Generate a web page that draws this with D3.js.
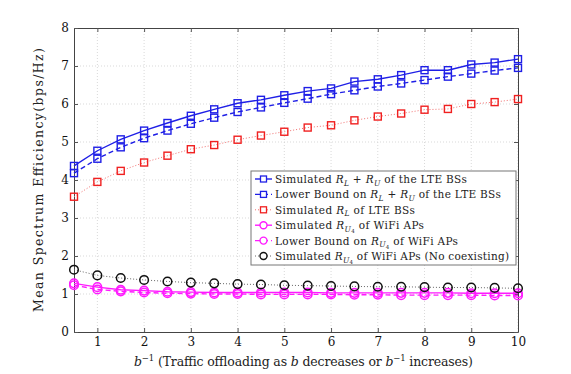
<!DOCTYPE html>
<html>
<head>
<meta charset="utf-8">
<script src="https://cdn.jsdelivr.net/npm/d3@7"></script>
<style>
  body { margin: 0; background: #fff; }
</style>
</head>
<body>
<svg id="drawing_region"></svg>
<script>
// b^-1 values
const xs = [0.5, 1, 1.5, 2, 2.5, 3, 3.5, 4, 4.5, 5, 5.5, 6, 6.5, 7, 7.5, 8, 8.5, 9, 9.5, 10];

const simLU   = [4.37, 4.77, 5.07, 5.30, 5.50, 5.69, 5.86, 6.02, 6.11, 6.23, 6.34, 6.41, 6.59, 6.65, 6.76, 6.89, 6.89, 7.04, 7.09, 7.18];
const lowLU   = [4.18, 4.56, 4.86, 5.10, 5.30, 5.48, 5.64, 5.79, 5.91, 6.03, 6.14, 6.26, 6.36, 6.46, 6.54, 6.63, 6.72, 6.80, 6.88, 6.95];
const simL    = [3.56, 3.95, 4.24, 4.46, 4.64, 4.81, 4.92, 5.06, 5.17, 5.27, 5.38, 5.44, 5.57, 5.67, 5.75, 5.85, 5.87, 6.00, 6.05, 6.13];
const simWifi = [1.28, 1.18, 1.11, 1.09, 1.06, 1.05, 1.04, 1.04, 1.04, 1.04, 1.04, 1.03, 1.03, 1.03, 1.03, 1.03, 1.03, 1.02, 1.02, 1.02];
const lowWifi = [1.23, 1.12, 1.07, 1.04, 1.02, 1.01, 1.00, 1.00, 0.99, 0.99, 0.99, 0.99, 0.98, 0.98, 0.97, 0.97, 0.97, 0.97, 0.96, 0.96];
const noCoex  = [1.64, 1.49, 1.42, 1.37, 1.33, 1.30, 1.28, 1.26, 1.25, 1.23, 1.22, 1.21, 1.20, 1.19, 1.19, 1.18, 1.17, 1.17, 1.16, 1.15];

const xTicks = [1, 2, 3, 4, 5, 6, 7, 8, 9, 10];
const yTicks = [0, 1, 2, 3, 4, 5, 6, 7, 8];

// legend pieces: [text, italic?, baseline shift]
const legendLabels = [
  [["Simulated ", 0], ["R", 1], ["L", 1, "sub"], [" + ", 0], ["R", 1], ["U", 1, "sub"], [" of the LTE BSs", 0]],
  [["Lower Bound on ", 0], ["R", 1], ["L", 1, "sub"], [" + ", 0], ["R", 1], ["U", 1, "sub"], [" of the LTE BSs", 0]],
  [["Simulated ", 0], ["R", 1], ["L", 1, "sub"], [" of LTE BSs", 0]],
  [["Simulated ", 0], ["R", 1], ["U", 1, "sub"], ["4", 0, "subsub"], [" of WiFi APs", 0]],
  [["Lower Bound on ", 0], ["R", 1], ["U", 1, "sub"], ["4", 0, "subsub"], [" of WiFi APs", 0]],
  [["Simulated ", 0], ["R", 1], ["U", 1, "sub"], ["4", 0, "subsub"], [" of WiFi APs (No coexisting)", 0]]
];
const legendWidths = [192, 226, 140, 149, 183, 234];

const series = [
  {values: simLU,   color: "#1f1fe6", dash: null,  lineColor: "#1f1fe6", width: 1.4, marker: "square"},
  {values: lowLU,   color: "#1f1fe6", dash: "5,3", lineColor: "#1f1fe6", width: 1.4, marker: "square"},
  {values: simL,    color: "#f02020", dash: "1,2", lineColor: "#f27070", width: 1.0, marker: "square"},
  {values: simWifi, color: "#ff1aff", dash: null,  lineColor: "#ff1aff", width: 1.4, marker: "circle"},
  {values: lowWifi, color: "#ff1aff", dash: "5,3", lineColor: "#ff1aff", width: 1.4, marker: "circle"},
  {values: noCoex,  color: "#111111", dash: "1,2", lineColor: "#666666", width: 1.0, marker: "circle"}
];

const width = 571, height = 374;
const margin = {top: 28, right: 53, bottom: 42, left: 74};
const iw = width - margin.left - margin.right;
const ih = height - margin.top - margin.bottom;

const svg = d3.select("#drawing_region").attr("width", width).attr("height", height);
const g = svg.append("g").attr("transform", `translate(${margin.left},${margin.top})`);

const x = d3.scaleLinear().domain([0.5, 10]).range([0, iw]);
const y = d3.scaleLinear().domain([0, 8]).range([ih, 0]);

const serif = "DejaVu Serif";

// grid
g.append("g").selectAll("line").data(xTicks).join("line")
  .attr("x1", d => x(d)).attr("x2", d => x(d)).attr("y1", 0).attr("y2", ih)
  .attr("stroke", "#cfcfcf").attr("stroke-width", 0.8).attr("stroke-dasharray", "1,2");
g.append("g").selectAll("line").data(yTicks.slice(1, -1)).join("line")
  .attr("y1", d => y(d)).attr("y2", d => y(d)).attr("x1", 0).attr("x2", iw)
  .attr("stroke", "#cfcfcf").attr("stroke-width", 0.8).attr("stroke-dasharray", "1,2");

// axes
const xAxis = g.append("g").attr("transform", `translate(0,${ih})`)
  .call(d3.axisBottom(x).tickValues(xTicks).tickSizeInner(-4).tickSizeOuter(0).tickPadding(5));
const xAxisTop = g.append("g")
  .call(d3.axisTop(x).tickValues(xTicks).tickSizeInner(-4).tickSizeOuter(0).tickFormat(""));
const yAxis = g.append("g")
  .call(d3.axisLeft(y).tickValues(yTicks).tickSizeInner(-4).tickSizeOuter(0).tickPadding(5));
const yAxisRight = g.append("g").attr("transform", `translate(${iw},0)`)
  .call(d3.axisRight(y).tickValues(yTicks).tickSizeInner(-4).tickSizeOuter(0).tickFormat(""));

[xAxis, xAxisTop, yAxis, yAxisRight].forEach(a => {
  a.select(".domain").attr("stroke", "#444").attr("stroke-width", 1);
  a.selectAll(".tick line").attr("stroke", "#555");
  a.selectAll("text").attr("font-size", 12).attr("fill", "#111")
    .style("font-family", serif);
});

// lines and markers
const line = d3.line().x((d, i) => x(xs[i])).y(d => y(d));

series.forEach(s => {
  g.append("path").datum(s.values)
    .attr("d", line)
    .attr("fill", "none")
    .attr("stroke", s.lineColor)
    .attr("stroke-width", s.width)
    .attr("stroke-dasharray", s.dash);
});

function drawMarker(sel, s, cx, cy) {
  if (s.marker === "square") {
    sel.append("rect").attr("x", cx - 3.5).attr("y", cy - 3.5).attr("width", 7).attr("height", 7)
      .attr("fill", "none").attr("stroke", s.color).attr("stroke-width", 1.4);
  } else {
    sel.append("circle").attr("cx", cx).attr("cy", cy).attr("r", 4.3)
      .attr("fill", "none").attr("stroke", s.color).attr("stroke-width", 1.5);
  }
}

series.forEach(s => {
  const mg = g.append("g");
  s.values.forEach((v, i) => drawMarker(mg, s, x(xs[i]), y(v)));
});

// legend
const lx = 251 - margin.left, ly = 171 - margin.top, lw = 265, rowH = 15.4;
const leg = g.append("g");
leg.append("rect").attr("x", lx).attr("y", ly).attr("width", lw).attr("height", 94)
  .attr("fill", "#fff").attr("stroke", "#777").attr("stroke-width", 1);

series.forEach((s, i) => {
  const cy = ly + 8 + i * rowH;
  leg.append("line").attr("x1", lx + 4).attr("x2", lx + 21).attr("y1", cy).attr("y2", cy)
    .attr("stroke", s.lineColor).attr("stroke-width", s.width).attr("stroke-dasharray", s.dash);
  if (s.marker === "square") {
    leg.append("rect").attr("x", lx + 12.5 - 3).attr("y", cy - 3).attr("width", 6).attr("height", 6)
      .attr("fill", "#fff").attr("stroke", s.color).attr("stroke-width", 1.3);
  } else {
    leg.append("circle").attr("cx", lx + 12.5).attr("cy", cy).attr("r", 3.5)
      .attr("fill", "#fff").attr("stroke", s.color).attr("stroke-width", 1.4);
  }
  const t = leg.append("text").attr("x", lx + 24).attr("y", cy + 4)
    .attr("font-size", 10.5).attr("fill", "#222")
    .attr("textLength", legendWidths[i]).attr("lengthAdjust", "spacing")
    .style("font-family", serif);
  legendLabels[i].forEach((p, k) => {
    const ts = t.append("tspan").text(p[0]);
    const prev = k > 0 ? legendLabels[i][k - 1][2] : null;
    if (p[1]) ts.attr("font-style", "italic");
    if (p[2] === "sub") ts.attr("font-size", 7.5).attr("dy", 2.5);
    else if (p[2] === "subsub") ts.attr("font-size", 5.5).attr("dy", 1.5);
    else if (prev === "sub") ts.attr("dy", -2.5);
    else if (prev === "subsub") ts.attr("dy", -4);
  });
});

// axis labels
svg.append("text")
  .attr("transform", `translate(43,${margin.top + ih / 2}) rotate(-90)`)
  .attr("text-anchor", "middle").attr("font-size", 12.5).attr("fill", "#222")
  .attr("textLength", 264).attr("lengthAdjust", "spacing")
  .style("font-family", serif)
  .text("Mean Spectrum Efficiency(bps/Hz)");

const xl = svg.append("text")
  .attr("x", 134).attr("y", 366).attr("font-size", 12.5).attr("fill", "#222")
  .attr("textLength", 339).attr("lengthAdjust", "spacing")
  .style("font-family", serif);
xl.append("tspan").attr("font-style", "italic").text("b");
xl.append("tspan").attr("font-size", 8.5).attr("dy", -5).text("−1");
xl.append("tspan").attr("dy", 5).text(" (Traffic offloading as ");
xl.append("tspan").attr("font-style", "italic").text("b");
xl.append("tspan").text(" decreases or ");
xl.append("tspan").attr("font-style", "italic").text("b");
xl.append("tspan").attr("font-size", 8.5).attr("dy", -5).text("−1");
xl.append("tspan").attr("dy", 5).text(" increases)");
</script>
</body>
</html>
